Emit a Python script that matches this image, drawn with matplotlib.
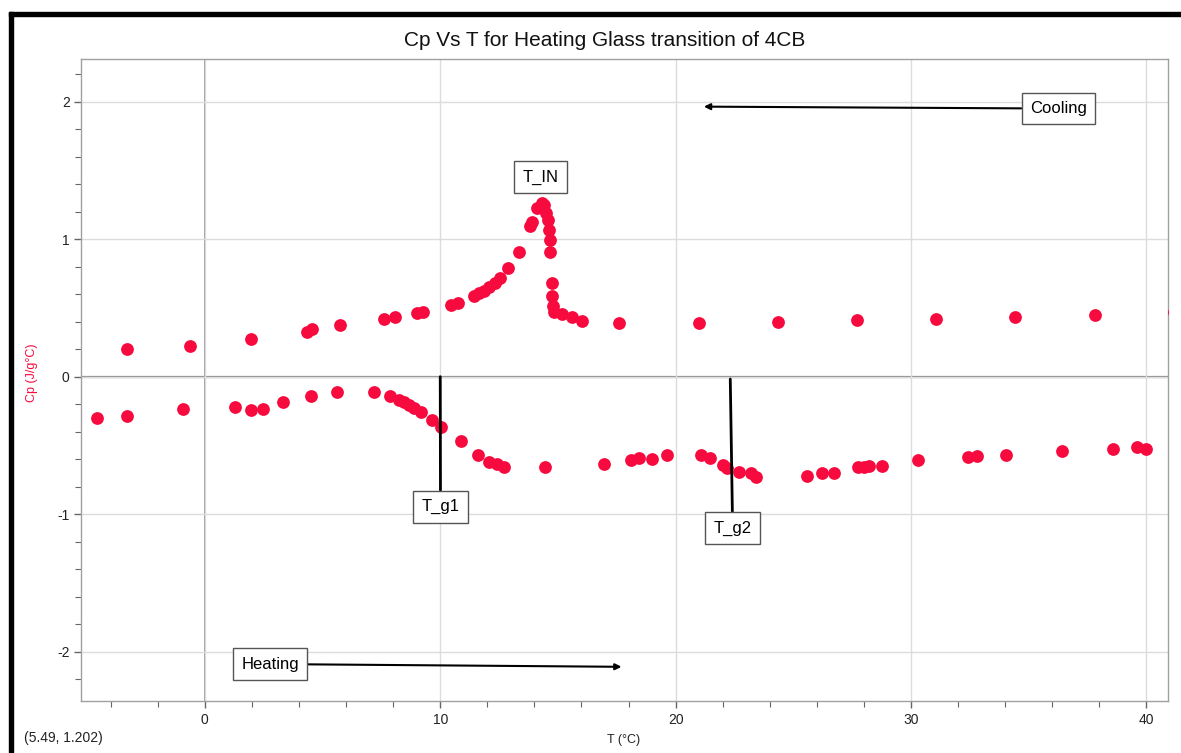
import matplotlib
matplotlib.use('Agg')
import matplotlib.pyplot as plt
from matplotlib.ticker import MultipleLocator
from matplotlib.patches import Rectangle

plt.rcParams['font.family'] = ['Liberation Sans', 'DejaVu Sans']
plt.rcParams['axes.unicode_minus'] = False

# Cooling run (upper branch)
cool_T = [-3.30, -0.62, 1.97, 4.32, 4.57, 5.76, 7.60, 8.08, 9.00, 9.28,
          10.46, 10.77, 11.42, 11.66, 11.86, 12.07, 12.32, 12.53, 12.89, 13.33,
          13.83, 13.91, 14.10, 14.31, 14.42, 14.50, 14.58, 14.62, 14.65, 14.68,
          14.73, 14.76, 14.78, 14.85, 15.17, 15.58, 16.04, 17.61, 20.98, 24.33,
          27.71, 31.07, 34.43, 37.80, 41.15]
cool_Cp = [0.199, 0.225, 0.272, 0.327, 0.344, 0.373, 0.422, 0.432, 0.465, 0.468,
           0.524, 0.533, 0.584, 0.606, 0.623, 0.650, 0.679, 0.715, 0.788, 0.907,
           1.096, 1.127, 1.224, 1.261, 1.248, 1.188, 1.139, 1.067, 0.994, 0.904,
           0.684, 0.587, 0.514, 0.473, 0.453, 0.432, 0.407, 0.393, 0.393, 0.400,
           0.411, 0.422, 0.437, 0.451, 0.469]

# Heating run (lower branch)
heat_T = [-4.57, -3.30, -0.91, 1.27, 1.96, 2.45, 3.34, 4.50, 5.60, 7.18,
          7.88, 8.24, 8.48, 8.69, 8.89, 9.17, 9.67, 10.03, 10.88, 11.60,
          12.07, 12.40, 12.72, 14.44, 16.97, 18.09, 18.45, 18.99, 19.64, 21.07,
          21.47, 21.99, 22.17, 22.69, 23.21, 23.41, 25.57, 26.22, 26.71, 27.75,
          27.98, 28.22, 28.78, 30.31, 32.41, 32.82, 34.02, 36.42, 38.57, 39.58,
          40.00]
heat_Cp = [-0.301, -0.286, -0.238, -0.218, -0.242, -0.238, -0.187, -0.138, -0.114, -0.112,
           -0.141, -0.167, -0.187, -0.206, -0.228, -0.255, -0.315, -0.364, -0.468, -0.570,
           -0.618, -0.635, -0.655, -0.659, -0.638, -0.609, -0.595, -0.597, -0.570, -0.570,
           -0.590, -0.641, -0.667, -0.692, -0.699, -0.728, -0.723, -0.701, -0.701, -0.658,
           -0.655, -0.648, -0.646, -0.607, -0.587, -0.575, -0.570, -0.539, -0.529, -0.512,
           -0.527]

red = '#F70A3D'

fig = plt.figure(figsize=(11.81, 7.53), dpi=100)
ax = fig.add_axes([0.069, 0.069, 0.9197, 0.8522])

ax.plot(cool_T, cool_Cp, 'o', color=red, ms=9.2, mec='none', zorder=3)
ax.plot(heat_T, heat_Cp, 'o', color=red, ms=9.2, mec='none', zorder=3)

ax.set_xlim(-5.24, 40.9)
ax.set_ylim(-2.359, 2.308)

ax.xaxis.set_major_locator(MultipleLocator(10))
ax.xaxis.set_minor_locator(MultipleLocator(2))
ax.yaxis.set_major_locator(MultipleLocator(1))
ax.yaxis.set_minor_locator(MultipleLocator(0.2))
ax.tick_params(which='both', direction='out', color='#666', labelsize=10, labelcolor='#222')
ax.tick_params(which='major', length=5, width=1)
ax.tick_params(which='minor', length=4, width=0.8)
ax.grid(True, which='major', color='#dcdcdc', lw=1)
ax.axhline(0, color='#8a8a8a', lw=1.6, zorder=1)
ax.axvline(0, color='#8a8a8a', lw=1.2, zorder=1)
for s in ax.spines.values():
    s.set_color('#a0a0a0')
    s.set_linewidth(1)

box = dict(boxstyle='square,pad=0.5', fc='white', ec='#555', lw=1)

ax.annotate('Cooling', xy=(21.2, 1.964), xytext=(36.26, 1.95), fontsize=12,
            ha='center', va='center', bbox=box, zorder=5,
            arrowprops=dict(arrowstyle='-|>', color='black', lw=1.5,
                            mutation_scale=9, shrinkA=0, shrinkB=0))
ax.annotate('Heating', xy=(17.7, -2.11), xytext=(2.77, -2.09), fontsize=12,
            ha='center', va='center', bbox=box, zorder=5,
            arrowprops=dict(arrowstyle='-|>', color='black', lw=1.5,
                            mutation_scale=9, shrinkA=0, shrinkB=0))
ax.annotate('T_g1', xy=(10.0, 0.0), xytext=(10.01, -0.945), fontsize=12,
            ha='center', va='center', bbox=box, zorder=5,
            arrowprops=dict(arrowstyle='-', color='black', lw=2,
                            shrinkA=0, shrinkB=0))
ax.annotate('T_g2', xy=(22.32, -0.017), xytext=(22.42, -1.10), fontsize=12,
            ha='center', va='center', bbox=box, zorder=5,
            arrowprops=dict(arrowstyle='-', color='black', lw=2,
                            shrinkA=0, shrinkB=0))
ax.text(14.25, 1.45, 'T_IN', fontsize=12, ha='center', va='center', bbox=box, zorder=5)

fig.text(605 / 1181, 1 - 40 / 753, 'Cp Vs T for Heating Glass transition of 4CB',
         fontsize=15, ha='center', va='center', color='#111')
fig.text(32.5 / 1181, 1 - 373 / 753, 'Cp (J/g°C)', fontsize=9, color=red,
         rotation=90, ha='center', va='center')
fig.text(624 / 1181, 1 - 740 / 753, 'T (°C)', fontsize=9, ha='center', va='center', color='#222')
fig.text(24 / 1181, 1 - 738 / 753, '(5.49, 1.202)', fontsize=10, ha='left', va='center', color='#222')

# screenshot frame
fig.patches.append(Rectangle((8.5 / 1181, 0), 4 / 1181, 1 - 12 / 753,
                             transform=fig.transFigure, color='black', zorder=10))
fig.patches.append(Rectangle((8.5 / 1181, 1 - 16 / 753), 1, 4 / 753,
                             transform=fig.transFigure, color='black', zorder=10))

plt.savefig('out.png', dpi=100)
